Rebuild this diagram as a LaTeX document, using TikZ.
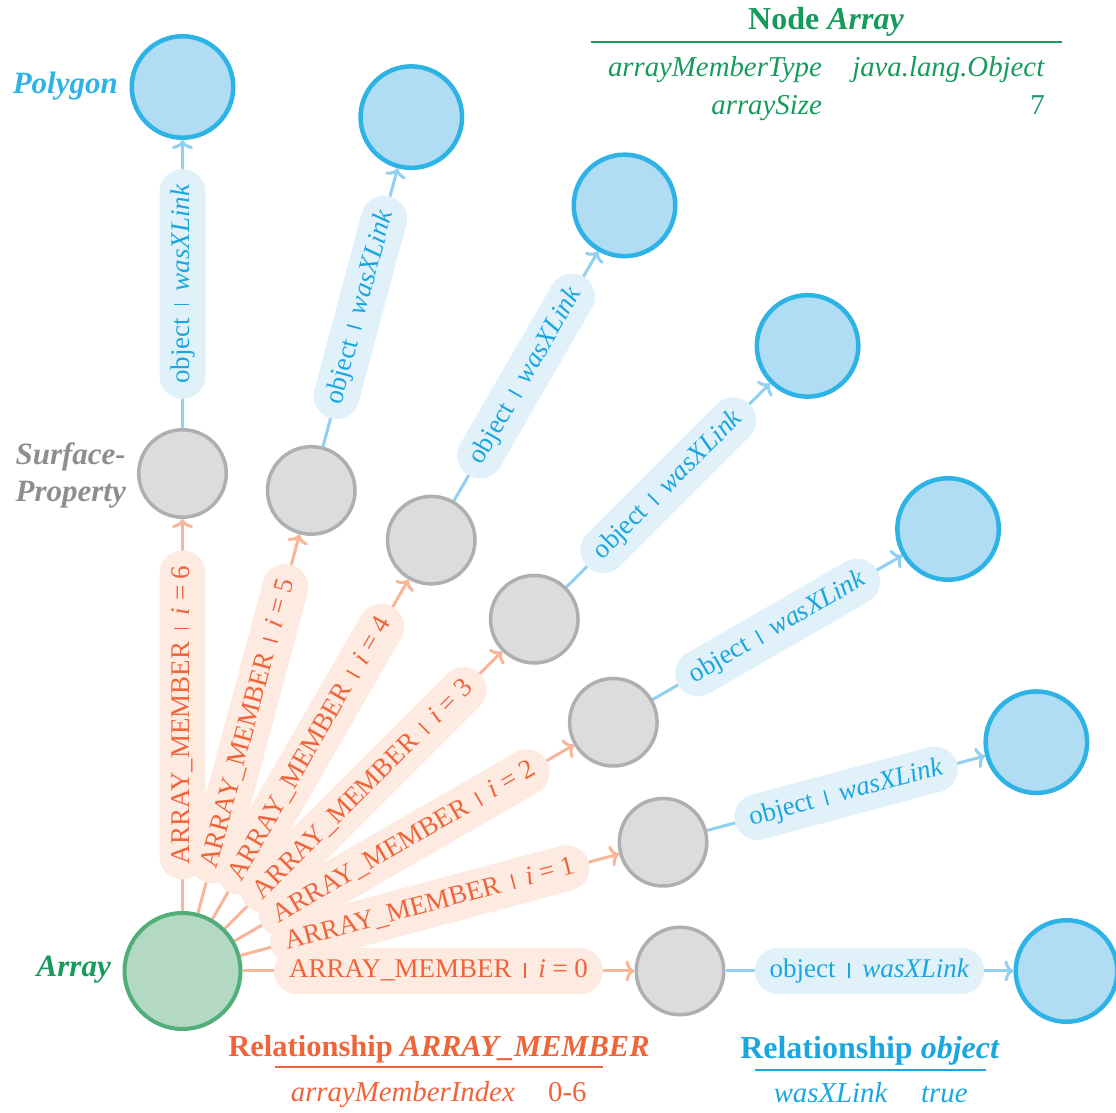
\documentclass[tikz,border=0pt]{standalone}
\usepackage{fontspec}
\setmainfont{Liberation Serif}
\usetikzlibrary{arrows.meta,calc}

\definecolor{grnline}{HTML}{52AE78}
\definecolor{grnfill}{HTML}{B3D9C3}
\definecolor{grntext}{HTML}{179B5D}
\definecolor{gryline}{HTML}{AFAFB2}
\definecolor{gryfill}{HTML}{DCDCDE}
\definecolor{grytext}{HTML}{8E8E91}
\definecolor{bluline}{HTML}{2DB3E6}
\definecolor{blufill}{HTML}{B0DCF4}
\definecolor{blutext}{HTML}{1AA7E0}
\definecolor{bluedge}{HTML}{91D0F0}
\definecolor{blupill}{HTML}{E1F1FA}
\definecolor{orgtext}{HTML}{F0643A}
\definecolor{orgedge}{HTML}{F8B598}
\definecolor{orgpill}{HTML}{FDEBE1}

\pgfdeclarelayer{edges}
\pgfdeclarelayer{pills}
\pgfsetlayers{edges,pills,main}

\newcommand\sepbar{\hspace{12.5pt}\rule{1.7pt}{15pt}\hspace{12.5pt}}
\newcommand\memtext[1]{ARRAY\_MEMBER\sepbar\textit{i} = #1}
\newcommand\objtext{object\sepbar\textit{wasXLink}}

\tikzset{
  basefont/.style={font=\fontsize{27}{31}\selectfont},
  arraynode/.style={circle, draw=grnline, fill=grnfill, line width=4pt, minimum size=116pt, inner sep=0pt},
  membernode/.style={circle, draw=gryline, fill=gryfill, line width=3.5pt, minimum size=87.5pt, inner sep=0pt},
  targetnode/.style={circle, draw=bluline, fill=blufill, line width=4.5pt, minimum size=101.5pt, inner sep=0pt},
  memberedge/.style={draw=orgedge, line width=3pt, -{Computer Modern Rightarrow[length=9pt,width=21pt,round]}},
  objedge/.style={draw=bluedge, line width=3pt, -{Computer Modern Rightarrow[length=9pt,width=21pt,round]}},
  pill/.style={basefont, inner xsep=15pt, inner ysep=0pt, outer sep=0pt, minimum height=46pt, text height=18.5pt, text depth=5pt},
  pillbg/.style={rounded corners=23pt},
  memberlbl/.style={pill, text=orgtext},
  objlbl/.style={pill, text=blutext},
  namelbl/.style={font=\fontsize{31}{37}\selectfont\bfseries\itshape, inner sep=0pt},
  tabletext/.style={font=\fontsize{28.8}{33}\selectfont, inner sep=0pt},
  tabletitle/.style={inner sep=0pt, anchor=base},
}

\begin{document}
\begin{tikzpicture}[x=1pt,y=1pt]
\useasboundingbox (0,0) rectangle (1116,1113);

% circles
\coordinate (O) at (182.5,142);
\node[arraynode] (A) at (O) {};
\foreach \k in {0,...,6} {
  \node[membernode] (g\k) at ($(O)+(15*\k:497.5)$) {};
  \node[targetnode] (b\k) at ($(O)+(15*\k:884)$) {};
}

% connectors, kept underneath their labels
\begin{pgfonlayer}{edges}
\foreach \k in {0,...,6} {
  \draw[memberedge] (A) -- coordinate[midway] (mm\k) (g\k);
  \draw[objedge] (g\k) -- coordinate[midway] (om\k) (b\k);
}
\end{pgfonlayer}

% connector labels: text on top, pill backgrounds below all texts
\foreach \k in {0,...,6} {
  \pgfmathsetmacro\ang{15*\k}
  \node[memberlbl, rotate=\ang] (mt\k) at (mm\k) {\memtext{\k}};
  \node[objlbl, rotate=\ang] (ot\k) at (om\k) {\objtext};
  \begin{pgfonlayer}{pills}
    \fill[orgpill, pillbg] (mt\k.north west) -- (mt\k.north east) -- (mt\k.south east) -- (mt\k.south west) -- cycle;
    \fill[blupill, pillbg] (ot\k.north west) -- (ot\k.north east) -- (ot\k.south east) -- (ot\k.south west) -- cycle;
  \end{pgfonlayer}
}

% node names
\node[namelbl, text=grntext, anchor=east] (nArray) at (111,143) {Array};
\node[namelbl, text=grytext, anchor=east, align=right] (nSurf) at (126,638) {Surface-\\Property};
\node[namelbl, text=bluline, anchor=east] (nPoly) at (118,1027) {Polygon};

% node property table
\node[tabletitle, text=grntext, font=\fontsize{32}{36}\selectfont\bfseries] (nt) at (826,1083) {Node \textit{Array}};
\draw[grntext, line width=2.5pt] (591,1071) -- (1062,1071);
\node[tabletext, text=grntext, anchor=base east] (nk1) at (822,1036) {\textit{arrayMemberType}};
\node[tabletext, text=grntext, anchor=base east] (nv1) at (1045,1036) {\textit{java.lang.Object}};
\node[tabletext, text=grntext, anchor=base east] (nk2) at (822,998) {\textit{arraySize}};
\node[tabletext, text=grntext, anchor=base east] (nv2) at (1045,998) {7};

% ARRAY_MEMBER property table
\node[tabletitle, text=orgtext, font=\fontsize{30.5}{34}\selectfont\bfseries] (rt) at (439,56) {Relationship \textit{ARRAY\_MEMBER}};
\draw[orgtext, line width=2.5pt] (275,46) -- (603,46);
\node[tabletext, text=orgtext, anchor=base east] (rk) at (515,11) {\textit{arrayMemberIndex}};
\node[tabletext, text=orgtext, anchor=base west] (rv) at (548,11) {0-6};

% object property table
\node[tabletitle, text=blutext, font=\fontsize{32}{36}\selectfont\bfseries] (ot) at (870,54) {Relationship \textit{object}};
\draw[blutext, line width=2.5pt] (755,43) -- (986,43);
\node[tabletext, text=blutext, anchor=base east] (ok) at (888,10) {\textit{wasXLink}};
\node[tabletext, text=blutext, anchor=base west] (ov) at (921,10) {\textit{true}};
\end{tikzpicture}
\end{document}
